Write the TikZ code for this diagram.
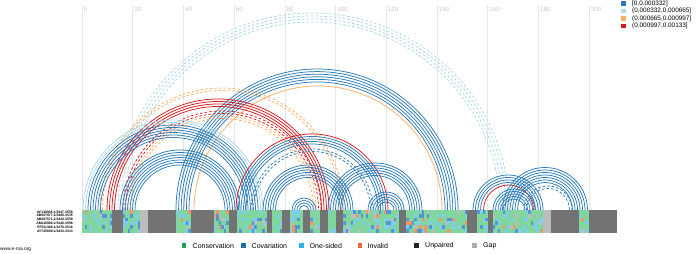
\documentclass[tikz,border=0pt]{standalone}
\usepackage{fontspec}
\setmainfont{Liberation Sans}
\definecolor{cA}{HTML}{2C7BB6}
\definecolor{cB}{HTML}{ABD9E9}
\definecolor{cC}{HTML}{FDAE61}
\definecolor{cD}{HTML}{D7191C}
\definecolor{gridc}{HTML}{E6E6E6}
\definecolor{gridt}{HTML}{C8C8C8}
\definecolor{algreen}{HTML}{80D69C}
\definecolor{alblue}{HTML}{5596D0}
\definecolor{alcyan}{HTML}{7CCEEC}
\definecolor{alorange}{HTML}{F59468}
\definecolor{algap}{HTML}{BDBDBD}
\definecolor{aldark}{HTML}{737373}
\definecolor{lgcons}{HTML}{22A652}
\definecolor{lgcov}{HTML}{1F6DB3}
\definecolor{lgone}{HTML}{2BB5E8}
\definecolor{lginv}{HTML}{F06A36}
\definecolor{lgunp}{HTML}{222222}
\definecolor{lggap}{HTML}{ABABAB}
\tikzset{
  arcb/.style={cA, line width=0.75pt},
  arclb/.style={cB, line width=0.75pt},
  arco/.style={cC, line width=0.75pt},
  arcr/.style={cD, line width=0.75pt},
  dsh/.style={dash pattern=on 2.6pt off 2pt},
  lgsq/.style={minimum size=4.4pt, inner sep=0pt},
  lgtxt/.style={font=\fontsize{7}{8}\selectfont, anchor=west, inner sep=0pt},
  toptxt/.style={font=\fontsize{6.4}{7}\selectfont, anchor=west, inner sep=0pt},
  axtxt/.style={font=\fontsize{6.2}{7}\selectfont, text=gridt, anchor=west, inner sep=0pt},
  nmtxt/.style={font=\fontsize{3.4}{3.8}\selectfont\bfseries, anchor=east, inner sep=0pt},
}
% helix: cx, outer radius, count, step, style
\newcommand{\hlx}[5]{%
  \foreach \kk in {1,...,#3}{%
    \pgfmathsetmacro\rr{#2-(\kk-1)*#4}%
    \draw[#5] (#1-\rr,44) arc[start angle=180,end angle=0,radius=\rr pt];
  }%
}
\begin{document}
\begin{tikzpicture}[x=1pt,y=1pt]
\useasboundingbox (0,0) rectangle (696,254);
\fill[white] (0,0) rectangle (696,254);
% grid
\foreach \k in {0,...,10}{
  \pgfmathsetmacro\gx{82+2.535*20*\k}
  \draw[gridc, line width=0.5pt] (\gx,249) -- (\gx,19);
  \pgfmathtruncatemacro\lab{20*\k}
  \node[axtxt] (ax\k) at (\gx+1.6,244.6) {\lab};
}
% arcs
\hlx{312}{197}{4}{3}{arclb,dsh}
\hlx{317}{141}{6}{2.6}{arcb}
\hlx{318}{124}{1}{2.5}{arco}
\hlx{222}{122}{2}{2.5}{arco,dsh}
\hlx{218}{111}{4}{2.5}{arcr}
\hlx{222}{99}{2}{2.5}{arcr,dsh}
\hlx{222}{94}{2}{2.5}{arco,dsh}
\hlx{173}{90}{2}{2.5}{arclb}
\hlx{173}{85}{6}{2.5}{arcb}
\hlx{180}{60}{7}{2.5}{arcb}
\hlx{312}{76}{1}{2.5}{arcr}
\hlx{312}{73.5}{4}{2.5}{arcb}
\hlx{312}{61}{2}{2.5}{arcb,dsh}
\hlx{308}{45}{6}{2.5}{arcb}
\hlx{304}{12}{4}{2.5}{arcb}
\hlx{375}{47}{6}{2.5}{arcb}
\hlx{386}{18}{5}{2.5}{arcb}
\hlx{508}{35}{4}{2.5}{arcb}
\hlx{508.5}{25}{1}{2.5}{arcr}
\hlx{514}{21}{5}{2.5}{arcb}
\hlx{545}{42.5}{7}{2.5}{arcb}
\hlx{548}{24}{2}{2.5}{arcb,dsh}
% alignment
\pgfmathsetseed{7}
\foreach \c in {0,...,210}{
  \foreach \r in {0,...,5}{
    \pgfmathrandominteger{\rv}{1}{100}
    \ifnum\rv<64 \def\cc{algreen}\else\ifnum\rv<75 \def\cc{alblue}\else\ifnum\rv<92 \def\cc{alcyan}\else\ifnum\rv<96 \def\cc{alorange}\else\def\cc{algap}\fi\fi\fi\fi
    \fill[\cc] (82+2.535*\c,44-3.83*\r) rectangle (82+2.535*\c+2.535,44-3.83*\r-3.83);
  }
}
\foreach \a/\b in {12/16,26/37,43/52,58/61,73/75,79/82,87/90,94/97,100/103,125/128,152/156,160/162,185/196,200/211}{
  \fill[aldark] (82+2.535*\a,44) rectangle (82+2.535*\b,21);
}
\foreach \a/\b in {23/26,182/185}{
  \fill[algap] (82+2.535*\a,44) rectangle (82+2.535*\b,21);
}
% sequence names
\node[nmtxt] (n1) at (73,42.1) {AF130905.1/3447-3558};
\node[nmtxt] (n2) at (73,38.3) {AB007877.1/3400-3535};
\node[nmtxt] (n3) at (73,34.5) {AB607571.1/3420-3559};
\node[nmtxt] (n4) at (73,30.6) {AM116906.1/3446-3598};
\node[nmtxt] (n5) at (73,26.8) {EF511386.1/3376-3516};
\node[nmtxt] (n6) at (73,23.0) {AY725699.1/3433-3313};
% top-right legend
\node[lgsq, fill=cA] (q1) at (623.5,250.5) {};
\node[toptxt] (t1) at (632,250.5) {[0,0.000332]};
\node[lgsq, fill=cB] (q2) at (623.5,243) {};
\node[toptxt] (t2) at (632,243) {(0.000332,0.000665]};
\node[lgsq, fill=cC] (q3) at (623.5,235.5) {};
\node[toptxt] (t3) at (632,235.5) {(0.000665,0.000997]};
\node[lgsq, fill=cD] (q4) at (623.5,228) {};
\node[toptxt] (t4) at (632,228) {(0.000997,0.00133]};
% bottom legend
\node[lgsq, fill=lgcons] (b1) at (184,8.5) {};
\node[lgtxt] (bt1) at (192.5,8.5) {Conservation};
\node[lgsq, fill=lgcov] (b2) at (243.5,8.5) {};
\node[lgtxt] (bt2) at (251.5,8.5) {Covariation};
\node[lgsq, fill=lgone] (b3) at (301.5,8.5) {};
\node[lgtxt] (bt3) at (309.5,8.5) {One-sided};
\node[lgsq, fill=lginv] (b4) at (360,8.5) {};
\node[lgtxt] (bt4) at (367.5,8.5) {Invalid};
\node[lgsq, fill=lgunp] (b5) at (416.5,8.5) {};
\node[lgtxt] (bt5) at (425,8.5) {Unpaired};
\node[lgsq, fill=lggap] (b6) at (474.5,8.5) {};
\node[lgtxt] (bt6) at (483,8.5) {Gap};
\node[font=\fontsize{4.8}{5}\selectfont, anchor=west, inner sep=0pt] (www) at (0,4) {www.e-rna.org};
\end{tikzpicture}
\end{document}
